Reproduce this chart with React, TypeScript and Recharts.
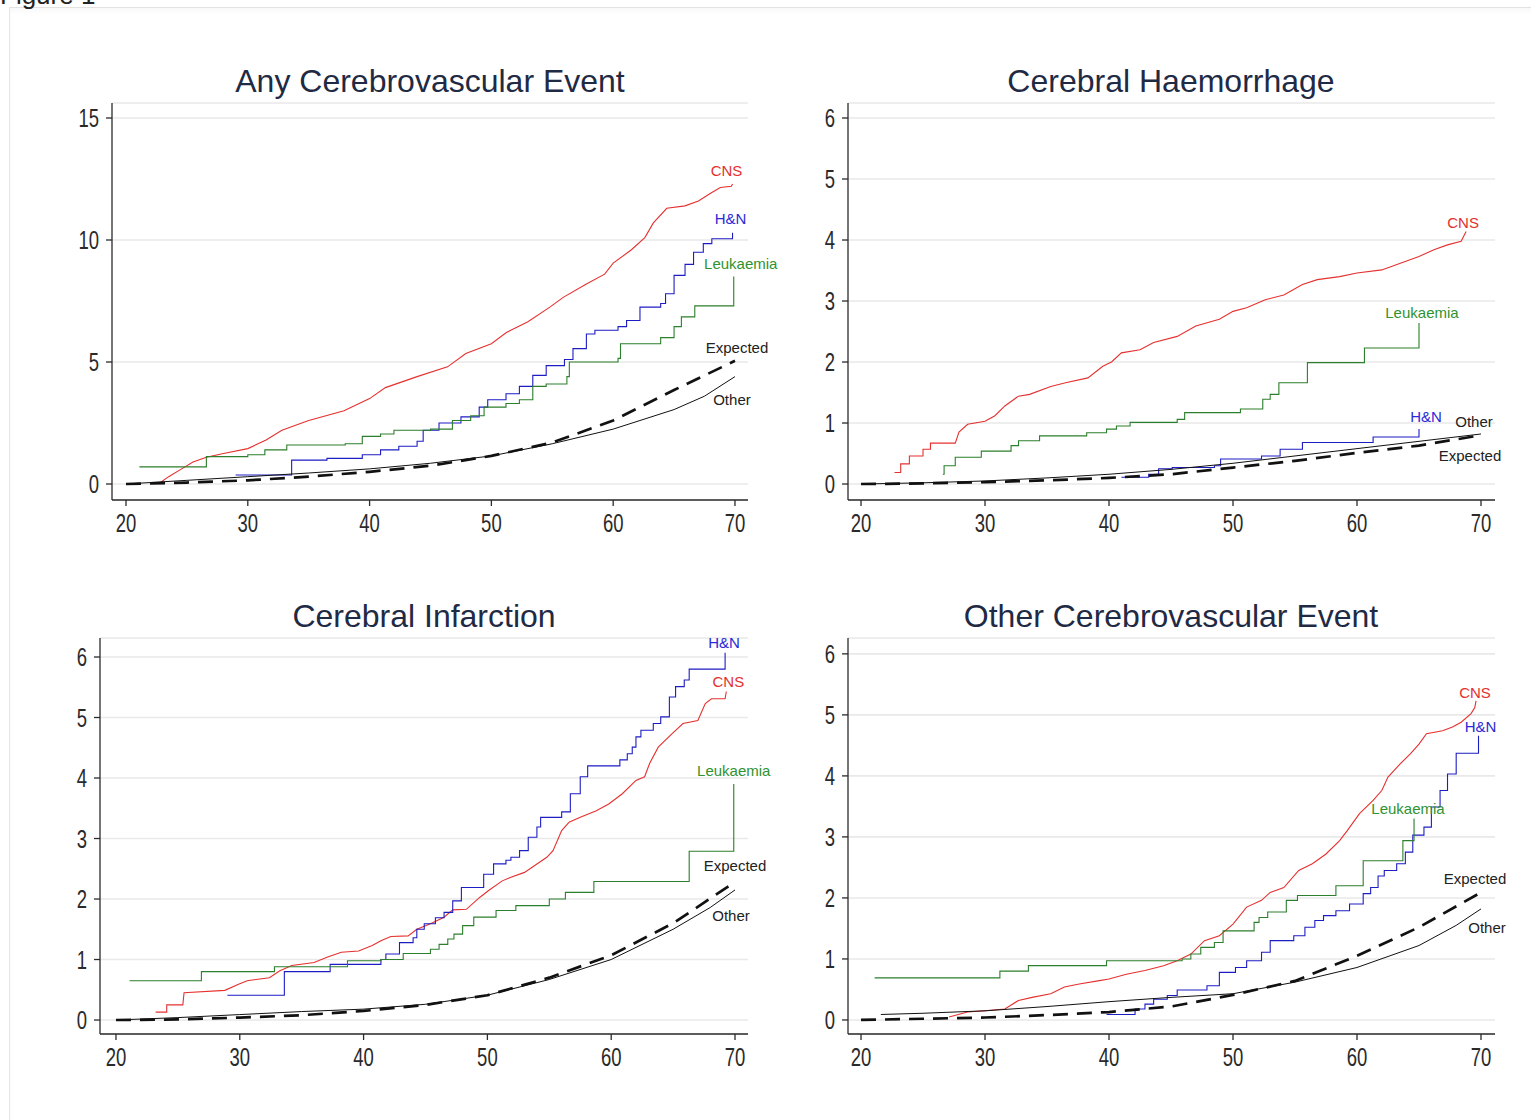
import { CartesianGrid, Line, LineChart, XAxis, YAxis } from 'recharts'

type Pt = [number, number]

const ageTicks = [20, 30, 40, 50, 60, 70]
const anyRiskTicks = [0, 5, 10, 15]
const smallRiskTicks = [0, 1, 2, 3, 4, 5, 6]

const seriesNames = ['CNS', 'H&N', 'Leukaemia', 'Expected', 'Other']

// Any cerebrovascular event
const anyCns: Pt[] = [[22.8, 0.05], [23.5, 0.3], [24.5, 0.6], [25.5, 0.9], [26.6, 1.1], [28, 1.25], [30, 1.45], [31.5, 1.8], [32.8, 2.2], [35, 2.6], [37.9, 3.0], [40, 3.5], [41.3, 3.95], [43.9, 4.4], [46.4, 4.8], [47.9, 5.35], [50, 5.75], [51.2, 6.2], [53, 6.65], [54.8, 7.25], [55.9, 7.65], [57.8, 8.2], [59.3, 8.6], [60, 9.05], [61.5, 9.6], [62.6, 10.1], [63.3, 10.7], [64.4, 11.3], [65.9, 11.4], [67, 11.6], [68.1, 11.95], [68.8, 12.15], [69.7, 12.2], [69.8, 12.3]]
const anyHn: Pt[] = [[29, 0.37], [33.6, 0.98], [36.5, 1.05], [39.4, 1.2], [40.9, 1.4], [42.4, 1.55], [43.9, 1.75], [44.4, 2.2], [45.7, 2.5], [47.5, 2.75], [49, 3.15], [49.7, 3.45], [51.2, 3.7], [52.3, 4.0], [53.4, 4.45], [54.5, 4.85], [56, 5.1], [56.7, 5.55], [57.8, 6.15], [58.5, 6.3], [60.4, 6.45], [61.1, 6.7], [62.2, 7.25], [63.9, 7.4], [64.3, 7.8], [65, 8.55], [65.9, 9.0], [66.6, 9.5], [67.4, 9.85], [68.1, 10.05], [69.8, 10.3]]
const anyLeuk: Pt[] = [[21.1, 0.7], [26.6, 1.12], [30, 1.2], [31.4, 1.4], [33.2, 1.6], [38, 1.65], [39.4, 1.95], [40.9, 2.05], [42, 2.2], [45, 2.25], [46.8, 2.6], [48.3, 2.8], [49.4, 3.15], [51.2, 3.3], [52.3, 3.45], [53.4, 4.0], [54.5, 4.1], [56.2, 4.4], [56.4, 5.0], [60.4, 5.15], [60.6, 5.75], [63.9, 6.0], [65, 6.45], [65.6, 6.85], [66.7, 7.3], [69.9, 8.5]]
const anyExpected: Pt[] = [[20, 0], [25, 0.06], [30, 0.15], [35, 0.3], [40, 0.5], [45, 0.75], [50, 1.15], [55, 1.7], [60, 2.6], [65, 3.85], [70, 5.05]]
const anyOther: Pt[] = [[20, 0], [25, 0.15], [30, 0.3], [35, 0.45], [40, 0.62], [45, 0.85], [50, 1.15], [55, 1.65], [60, 2.25], [65, 3.05], [67.5, 3.6], [70, 4.4]]

// Cerebral haemorrhage
const haemCns: Pt[] = [[22.7, 0.19], [23.2, 0.19], [23.2, 0.33], [23.9, 0.33], [23.9, 0.46], [25, 0.46], [25, 0.57], [25.6, 0.57], [25.6, 0.67], [27.6, 0.67], [27.9, 0.85], [28.6, 0.98], [30, 1.03], [30.8, 1.12], [31.6, 1.28], [32.7, 1.44], [33.6, 1.47], [35.3, 1.6], [36.5, 1.66], [38.3, 1.74], [39.5, 1.93], [40.2, 2.0], [41, 2.15], [42.5, 2.2], [43.6, 2.32], [45.5, 2.42], [47, 2.59], [48.9, 2.7], [50, 2.83], [51.1, 2.89], [52.6, 3.02], [54.1, 3.1], [55.6, 3.27], [56.8, 3.35], [58.6, 3.4], [60, 3.46], [62, 3.51], [63.5, 3.62], [65, 3.73], [66.2, 3.84], [67.3, 3.92], [68.4, 3.98], [68.8, 4.14]]
const haemHn: Pt[] = [[41, 0.11], [43.2, 0.16], [44, 0.25], [45.1, 0.27], [48.5, 0.3], [49, 0.41], [52.3, 0.46], [53.8, 0.57], [55.6, 0.68], [61.3, 0.77], [65, 0.9]]
const haemLeuk: Pt[] = [[26.6, 0.16], [26.7, 0.3], [27.6, 0.44], [29.7, 0.54], [32.1, 0.63], [32.7, 0.71], [34.4, 0.79], [38.2, 0.84], [39.8, 0.9], [40.6, 0.95], [41.7, 1.01], [45.5, 1.06], [46.1, 1.17], [50.6, 1.23], [52.4, 1.39], [53, 1.47], [53.7, 1.66], [56, 1.99], [60.6, 2.23], [65, 2.64]]
const haemExpected: Pt[] = [[20, 0], [25, 0.01], [30, 0.03], [35, 0.06], [40, 0.1], [45, 0.16], [50, 0.27], [55, 0.38], [60, 0.51], [65, 0.63], [70, 0.8]]
const haemOther: Pt[] = [[20, 0], [25, 0.02], [30, 0.05], [35, 0.1], [40, 0.16], [45, 0.24], [50, 0.34], [55, 0.46], [60, 0.58], [65, 0.7], [70, 0.82]]

// Cerebral infarction
const infCns: Pt[] = [[23.2, 0.13], [24.1, 0.13], [24.1, 0.25], [25.4, 0.25], [25.5, 0.45], [28.8, 0.49], [29.9, 0.59], [30.6, 0.65], [32.4, 0.7], [33.2, 0.81], [34.2, 0.9], [36, 0.95], [37.1, 1.04], [38.2, 1.12], [39.6, 1.14], [40.7, 1.23], [41.4, 1.31], [42.2, 1.38], [43.6, 1.39], [44.3, 1.5], [45.4, 1.59], [46.5, 1.7], [47.2, 1.82], [48.3, 1.83], [49.4, 2.03], [50.1, 2.14], [51.2, 2.3], [51.9, 2.36], [53, 2.44], [54, 2.58], [54.8, 2.69], [55.3, 2.8], [56, 3.13], [56.6, 3.27], [57.5, 3.35], [58.8, 3.46], [59.8, 3.57], [60.9, 3.74], [62, 3.96], [62.7, 4.02], [63.1, 4.24], [63.8, 4.51], [64.9, 4.73], [65.8, 4.9], [67, 4.95], [67.6, 5.23], [68.1, 5.31], [69.2, 5.31], [69.3, 5.43]]
const infHn: Pt[] = [[29, 0.41], [33.6, 0.8], [37.3, 0.92], [41.4, 1.0], [41.8, 1.09], [42.9, 1.28], [44, 1.36], [44.3, 1.5], [44.9, 1.59], [45.8, 1.69], [46.5, 1.78], [47.2, 1.97], [47.9, 2.19], [49.7, 2.41], [50.5, 2.58], [51.5, 2.64], [51.9, 2.69], [52.6, 2.8], [53.3, 3.02], [54, 3.19], [54.3, 3.35], [56, 3.44], [56.7, 3.74], [57.5, 4.02], [58.1, 4.2], [60.7, 4.3], [61.3, 4.4], [61.7, 4.51], [62, 4.68], [62.4, 4.79], [63.4, 4.9], [64, 5.01], [64.7, 5.34], [65.2, 5.51], [65.9, 5.62], [66.3, 5.8], [69.2, 6.07]]
const infLeuk: Pt[] = [[21.1, 0.65], [26.9, 0.8], [32.8, 0.88], [38.7, 0.98], [41.4, 1.0], [43.2, 1.1], [45.4, 1.17], [46.1, 1.25], [46.8, 1.34], [47.3, 1.42], [48, 1.56], [48.9, 1.7], [50.7, 1.81], [52.3, 1.89], [55, 2.0], [56.3, 2.11], [58.6, 2.29], [66.3, 2.79], [69.9, 3.9]]
const infExpected: Pt[] = [[20, 0], [25, 0.01], [30, 0.04], [35, 0.08], [40, 0.15], [45, 0.25], [50, 0.41], [55, 0.7], [60, 1.07], [65, 1.6], [70, 2.28]]
const infOther: Pt[] = [[20, 0], [25, 0.04], [30, 0.09], [35, 0.14], [40, 0.18], [45, 0.26], [50, 0.41], [55, 0.67], [60, 1.0], [65, 1.5], [68, 1.86], [70, 2.15]]

// Other cerebrovascular event
const othCns: Pt[] = [[27.1, 0.05], [28.6, 0.13], [30, 0.15], [31.6, 0.18], [32.7, 0.32], [33.8, 0.37], [35.3, 0.43], [36.4, 0.54], [37.6, 0.59], [39.1, 0.64], [40, 0.67], [41.4, 0.75], [42.9, 0.81], [44.4, 0.89], [45.5, 0.97], [46.6, 1.08], [47.7, 1.3], [48.9, 1.38], [50, 1.57], [51.1, 1.85], [52.3, 1.96], [53, 2.09], [54.1, 2.17], [55.3, 2.45], [56.4, 2.56], [57.5, 2.72], [58.6, 2.94], [59.2, 3.1], [60.2, 3.38], [61.3, 3.6], [62, 3.76], [62.5, 3.98], [63.5, 4.2], [64.3, 4.36], [65, 4.52], [65.6, 4.69], [66.9, 4.74], [67.7, 4.8], [68.4, 4.88], [69.2, 5.02], [69.5, 5.12], [69.6, 5.23]]
const othHn: Pt[] = [[39.8, 0.09], [42.1, 0.18], [42.9, 0.26], [43.6, 0.34], [44.7, 0.4], [45.5, 0.49], [47.9, 0.56], [48.9, 0.78], [50.2, 0.86], [51.1, 0.97], [52.3, 1.11], [53, 1.3], [54.9, 1.38], [55.8, 1.52], [56.6, 1.63], [57.3, 1.71], [58.3, 1.79], [59.4, 1.9], [60.5, 2.07], [61.1, 2.17], [61.7, 2.36], [62.2, 2.45], [63.2, 2.56], [63.9, 2.75], [64.5, 3.03], [65.4, 3.16], [66, 3.49], [66.7, 3.76], [67.3, 4.03], [68, 4.37], [69.8, 4.66]]
const othLeuk: Pt[] = [[21.1, 0.69], [31.2, 0.8], [33.5, 0.89], [39.8, 0.97], [45.9, 1.0], [46.6, 1.08], [47.4, 1.19], [48.5, 1.27], [49.2, 1.46], [51.7, 1.6], [52.1, 1.68], [52.8, 1.77], [54.3, 1.96], [55.2, 2.04], [58.3, 2.2], [60.5, 2.61], [63.7, 2.94], [64.6, 3.3]]
const othExpected: Pt[] = [[20, 0], [25, 0.02], [30, 0.04], [35, 0.08], [40, 0.13], [45, 0.22], [50, 0.41], [55, 0.64], [60, 1.05], [65, 1.52], [70, 2.09]]
const othOther: Pt[] = [[21.6, 0.09], [25, 0.11], [30, 0.15], [35, 0.22], [40, 0.3], [45, 0.37], [50, 0.43], [55, 0.62], [60, 0.86], [65, 1.22], [68, 1.55], [70, 1.82]]

const FONT = '"Liberation Sans", Arial, Helvetica, sans-serif'
const AXIS = '#2b2b2b'

type SeriesStyle = {
  color: string
  labelColor: string
  width: number
  dash?: string
  curve: 'linear' | 'stepAfter'
}

const styles: Record<string, SeriesStyle> = {
  CNS: { color: '#e5312f', labelColor: '#e3302e', width: 1.1, curve: 'linear' },
  'H&N': { color: '#1d1dc4', labelColor: '#2a2ad6', width: 1.1, curve: 'stepAfter' },
  Leukaemia: { color: '#2c7f2c', labelColor: '#2f932f', width: 1.1, curve: 'stepAfter' },
  Expected: { color: '#111111', labelColor: '#222222', width: 2.7, dash: '15 9', curve: 'linear' },
  Other: { color: '#111111', labelColor: '#222222', width: 1, curve: 'linear' },
}

type Panel = {
  title: string
  series: Pt[][]
  labelOffsets: Pt[]
  yTicks: number[]
  xDomain: Pt
  yDomain: Pt
  left: number
  top: number
  plotWidth: number
  rightPad: number
  height: number
  yAxisWidth: number
  titleX: number
  titleY: number
}

const panels: Panel[] = [
  {
    title: 'Any Cerebrovascular Event',
    series: [anyCns, anyHn, anyLeuk, anyExpected, anyOther],
    labelOffsets: [[-6, -8], [-2, -9], [7, -8], [2, -8], [-3, 28]],
    yTicks: anyRiskTicks,
    xDomain: [18.85, 71.07],
    yDomain: [-0.656, 15.615],
    left: 52, top: 93, plotWidth: 636, rightPad: 60, height: 457, yAxisWidth: 60,
    titleX: 430, titleY: 92,
  },
  {
    title: 'Cerebral Haemorrhage',
    series: [haemCns, haemHn, haemLeuk, haemExpected, haemOther],
    labelOffsets: [[-3, -3], [7, -7], [3, -5], [-11, 26], [-7, -7]],
    yTicks: smallRiskTicks,
    xDomain: [18.95, 71.13],
    yDomain: [-0.262, 6.246],
    left: 788, top: 93, plotWidth: 647, rightPad: 30, height: 457, yAxisWidth: 60,
    titleX: 1171, titleY: 92,
  },
  {
    title: 'Cerebral Infarction',
    series: [infCns, infHn, infLeuk, infExpected, infOther],
    labelOffsets: [[2, -4], [-1, -5], [0, -8], [0, -11], [-4, 31]],
    yTicks: smallRiskTicks,
    xDomain: [18.71, 71.05],
    yDomain: [-0.231, 6.314],
    left: 40, top: 628, plotWidth: 648, rightPad: 60, height: 456, yAxisWidth: 60,
    titleX: 424, titleY: 627,
  },
  {
    title: 'Other Cerebrovascular Event',
    series: [othCns, othHn, othLeuk, othExpected, othOther],
    labelOffsets: [[-1, -3], [2, -4], [-6, -5], [-6, -8], [6, 24]],
    yTicks: smallRiskTicks,
    xDomain: [18.95, 71.13],
    yDomain: [-0.23, 6.26],
    left: 788, top: 628, plotWidth: 647, rightPad: 30, height: 456, yAxisWidth: 60,
    titleX: 1171, titleY: 627,
  },
]

function toRows(points: Pt[]) {
  return points.map(([age, risk]) => ({ age, risk }))
}

// Stata's tick labels are narrow, so squeeze the digits horizontally
function XTick(props: any) {
  const { x, y, payload } = props
  return (
    <text
      transform={`translate(${x},${y}) scale(0.74,1)`}
      textAnchor="middle"
      dy={18}
      fontSize={25}
      fill="#2a2a2a"
      fontFamily={FONT}
    >
      {payload.value}
    </text>
  )
}

function YTick(props: any) {
  const { x, y, payload } = props
  return (
    <text
      transform={`translate(${x},${y}) scale(0.74,1)`}
      textAnchor="end"
      dy={9}
      fontSize={25}
      fill="#2a2a2a"
      fontFamily={FONT}
    >
      {payload.value}
    </text>
  )
}

function PanelChart({ panel }: { panel: Panel }) {
  const width = panel.yAxisWidth + panel.plotWidth + panel.rightPad
  return (
    <div style={{ position: 'absolute', left: panel.left, top: panel.top }}>
      <LineChart
        width={width}
        height={panel.height}
        margin={{ top: 10, right: panel.rightPad, left: 0, bottom: 0 }}
        accessibilityLayer={false}
      >
        <CartesianGrid horizontal vertical={false} stroke="#e9e9e9" strokeWidth={1.6} />
        <XAxis
          type="number"
          dataKey="age"
          domain={panel.xDomain}
          ticks={ageTicks}
          height={50}
          stroke={AXIS}
          strokeWidth={1.3}
          tickSize={6}
          tickMargin={8}
          tick={<XTick />}
        />
        <YAxis
          type="number"
          domain={panel.yDomain}
          ticks={panel.yTicks}
          width={panel.yAxisWidth}
          stroke={AXIS}
          strokeWidth={1.3}
          tickSize={6}
          tickMargin={7}
          tick={<YTick />}
        />
        {panel.series.map((points, i) => {
          const name = seriesNames[i]
          const s = styles[name]
          const [dx, dy] = panel.labelOffsets[i]
          const last = points.length - 1
          return (
            <Line
              key={name}
              data={toRows(points)}
              dataKey="risk"
              name={name}
              type={s.curve}
              stroke={s.color}
              strokeWidth={s.width}
              strokeDasharray={s.dash}
              activeDot={false}
              isAnimationActive={false}
              dot={(p: any) =>
                p.index === last ? (
                  <text
                    key={`lbl-${name}`}
                    x={p.cx + dx}
                    y={p.cy + dy}
                    textAnchor="middle"
                    fontSize={15}
                    fill={s.labelColor}
                    fontFamily={FONT}
                  >
                    {name}
                  </text>
                ) : (
                  <g key={`d-${name}-${p.index}`} />
                )
              }
            />
          )
        })}
      </LineChart>
    </div>
  )
}

export default function App() {
  return (
    <div
      style={{
        position: 'absolute',
        left: 0,
        top: 0,
        width: 1531,
        height: 1120,
        overflow: 'hidden',
        background: '#ffffff',
        fontFamily: FONT,
      }}
    >
      <div
        style={{
          position: 'absolute',
          left: 9,
          top: 7,
          width: 1540,
          height: 1140,
          borderTop: '1px solid #e2e2e2',
          borderLeft: '1px solid #e6e6e6',
          boxShadow: 'inset 0 3px 4px rgba(0,0,0,0.03)',
        }}
      />
      {panels.map((panel) => (
        <PanelChart key={panel.title} panel={panel} />
      ))}
      <svg
        width={1531}
        height={1120}
        style={{ position: 'absolute', left: 0, top: 0, pointerEvents: 'none' }}
      >
        <text x={0} y={4} fontSize={26} fill="#222" fontFamily={FONT}>
          Figure 1
        </text>
        {panels.map((panel) => (
          <text
            key={panel.title}
            x={panel.titleX}
            y={panel.titleY}
            textAnchor="middle"
            fontSize={32}
            fill="#1f2a44"
            fontFamily={FONT}
          >
            {panel.title}
          </text>
        ))}
      </svg>
    </div>
  )
}
